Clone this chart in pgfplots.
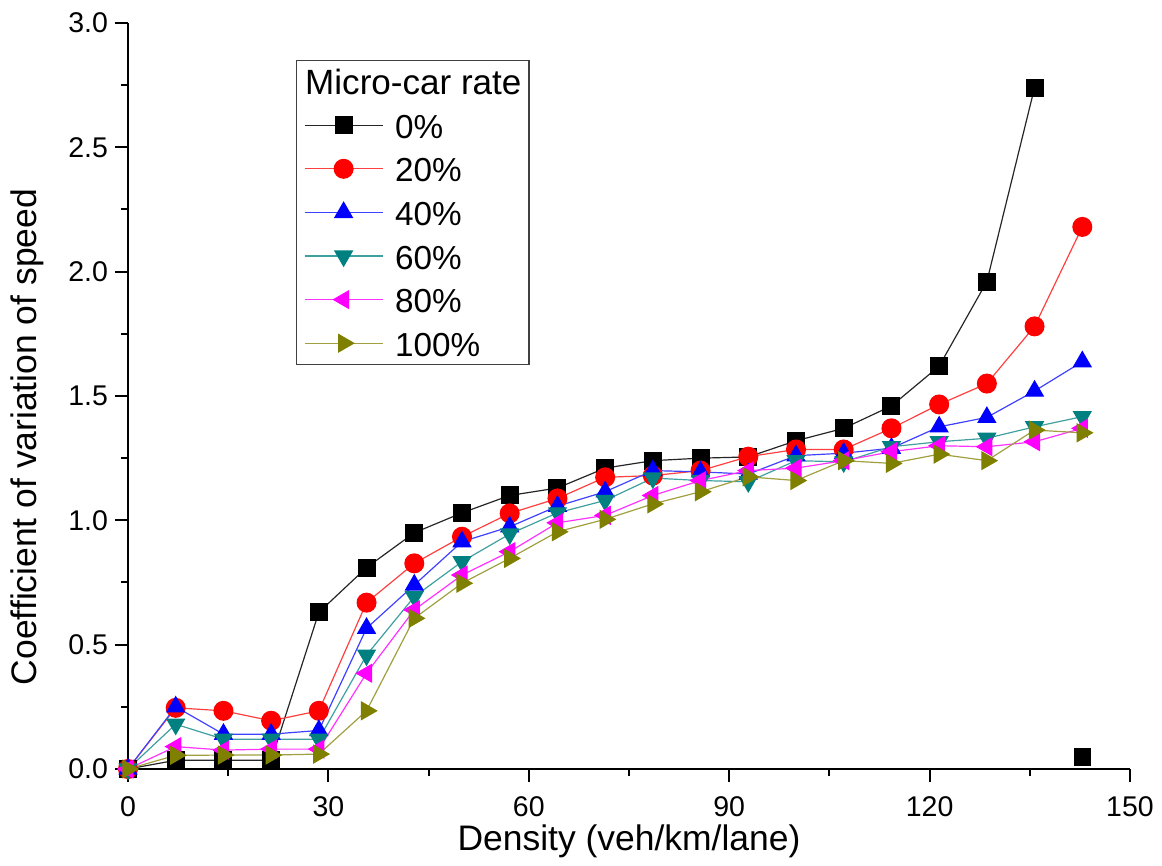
\documentclass[border=0pt]{standalone}
\usepackage{fontspec}
\setmainfont{Liberation Sans}
\usepackage{pgfplots}
\usepackage{pgfplotstable}
\pgfplotsset{compat=1.18}

\definecolor{cA}{RGB}{0,0,0}
\definecolor{cB}{RGB}{255,0,0}
\definecolor{cC}{RGB}{0,0,255}
\definecolor{cD}{RGB}{0,128,128}
\definecolor{cE}{RGB}{255,0,255}
\definecolor{cF}{RGB}{128,128,0}

\pgfplotstableread{
x      a      b      c      d      e      f
0      0      0      0      0      0      0
7.14   0.035  0.246  0.25   0.18   0.09   0.055
14.29  0.035  0.234  0.14   0.12   0.076  0.056
21.43  0.035  0.194  0.14   0.12   0.08   0.056
28.57  0.63   0.234  0.155  0.12   0.08   0.06
35.71  0.81   0.669  0.566  0.458  0.385  0.234
42.86  0.95   0.827  0.74   0.693  0.64   0.606
50     1.03   0.934  0.914  0.834  0.78   0.747
57.14  1.10   1.028  0.974  0.945  0.874  0.847
64.29  1.13   1.088  1.057  1.03   0.99   0.954
71.43  1.21   1.173  1.115  1.08   1.02   1.004
78.57  1.24   1.18   1.20   1.17   1.10   1.066
85.71  1.25   1.20   1.195  1.16   1.16   1.115
92.86  1.255  1.256  1.186  1.155  1.20   1.175
100    1.32   1.285  1.26   1.24   1.21   1.16
107.14 1.37   1.285  1.27   1.235  1.24   1.24
114.29 1.46   1.37   1.29   1.296  1.276  1.229
121.43 1.62   1.466  1.376  1.316  1.30   1.266
128.57 1.96   1.55   1.414  1.33   1.296  1.24
135.71 2.74   1.78   1.52   1.376  1.316  1.363
142.86 nan    2.18   1.638  1.417  1.37   1.352
}\datatable

\begin{document}
\begin{tikzpicture}
\useasboundingbox (-64bp,-48.5bp) rectangle (517bp,384.5bp);
\begin{axis}[
  scale only axis,
  width=501bp, height=373bp,
  xmin=0, xmax=150, ymin=0, ymax=3,
  axis x line*=bottom, axis y line*=left,
  axis line style={-, line width=1bp, black},
  xtick={0,30,60,90,120,150},
  ytick={0,0.5,1,1.5,2,2.5,3},
  minor tick num=1,
  tick align=outside,
  major tick length=6.5bp, minor tick length=3.5bp,
  tick style={line width=1bp, black},
  yticklabel style={/pgf/number format/fixed, /pgf/number format/fixed zerofill, /pgf/number format/precision=1},
  /pgf/number format/assume math mode=true,
  ticklabel style={font=\fontsize{14.3}{17}\selectfont},
  xticklabel style={inner sep=0pt, text depth=0pt},
  xticklabel shift=7.3bp,
  xlabel={Density (veh/km/lane)},
  ylabel={Coefficient of variation of speed},
  label style={font=\fontsize{17.8}{21}\selectfont},
  xlabel style={at={(axis description cs:0.5,-0.0975)}, anchor=center, inner sep=0pt},
  ylabel style={at={(axis description cs:-0.1008,0.445)}, anchor=center},
  clip=false,
  unbounded coords=jump,
  legend cell align=left,
  legend image code/.code={\draw[mark repeat=2,mark phase=2,#1] plot coordinates {(0bp,0bp) (19.5bp,0bp) (39bp,0bp)};},
  legend style={at={(0.1677,0.9504)}, anchor=north west, draw=black!75, line width=0.6bp,
    font=\fontsize{16.7}{19}\selectfont, inner xsep=3.7bp, inner ysep=1bp,
    nodes={inner sep=0pt, text height=16bp, text depth=3bp},
    row sep=2.8bp, column sep=6bp},
]
\addlegendimage{empty legend}
\addlegendentry{\hspace{-45bp}{\fontsize{17.6}{19}\selectfont Micro-car rate}}
\addplot[color=cA!85, line width=0.6bp, mark=square*, mark size=4.2bp, mark options={fill=cA, draw=cA}] table[x=x, y=a] {\datatable};
\addlegendentry{0\%}
\addplot[color=cB!75, line width=0.6bp, mark=*, mark size=4.7bp, mark options={fill=cB, draw=cB}] table[x=x, y=b] {\datatable};
\addlegendentry{20\%}
\addplot[color=cC!75, line width=0.6bp, mark=triangle*, mark size=5bp, mark options={fill=cC, draw=cC}] table[x=x, y=c] {\datatable};
\addlegendentry{40\%}
\addplot[color=cD!75, line width=0.6bp, mark=triangle*, mark size=5bp, mark options={fill=cD, draw=cD, rotate=180}] table[x=x, y=d] {\datatable};
\addlegendentry{60\%}
\addplot[color=cE!80, line width=0.6bp, mark=triangle*, mark size=5bp, mark options={fill=cE, draw=cE, rotate=90}] table[x=x, y=e] {\datatable};
\addlegendentry{80\%}
\addplot[color=cF!75, line width=0.6bp, mark=triangle*, mark size=5bp, mark options={fill=cF, draw=cF, rotate=-90}] table[x=x, y=f] {\datatable};
\addlegendentry{100\%}
\addplot[only marks, forget plot, mark=square*, mark size=4.2bp, mark options={fill=cA, draw=cA}] coordinates {(142.86,0.05)};
\end{axis}
\end{tikzpicture}
\end{document}
